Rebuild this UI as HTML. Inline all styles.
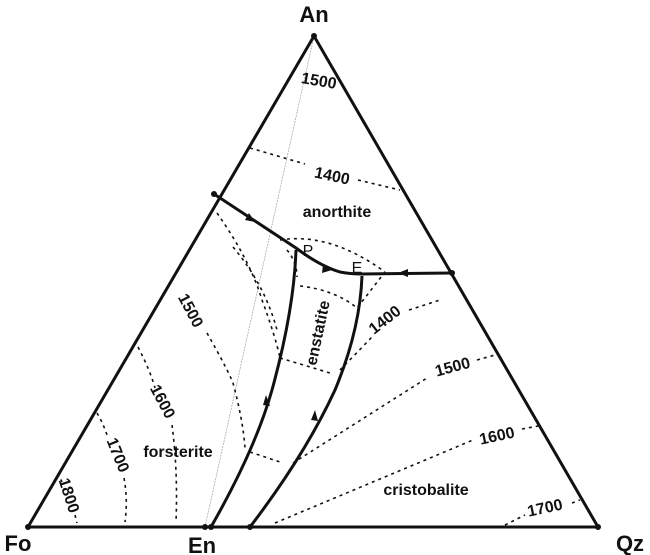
<!DOCTYPE html>
<html><head><style>body{margin:0;background:#fff}svg{display:block}</style></head><body>
<svg width="650" height="555" viewBox="0 0 650 555" xmlns="http://www.w3.org/2000/svg" font-family="Liberation Sans, Arial, sans-serif">
<line x1="314" y1="36" x2="205" y2="527" stroke="#aaa" stroke-width="0.8" stroke-dasharray="2,1"/>
<g fill="none" stroke="#111" stroke-width="1.6" stroke-dasharray="3,4">
<path d="M250,148 L305,164"/><path d="M358,180 L400,190"/>
<path d="M280,240 Q330,232 385,272"/>
<path d="M300,286 Q335,290 357,308 L385,272"/>
<path d="M340,370 L372,337"/><path d="M409,310 L440,300"/>
<path d="M293,463 L427,378"/><path d="M477,360 L495,355"/>
<path d="M275,523 L473,440"/><path d="M522,429 L538,426"/>
<path d="M505,525 L525,515"/><path d="M572,503 L580,500"/>
<path d="M250,452 L283,463"/><path d="M280,358 L330,373"/>
<path d="M217,213 Q250,260 262,300 Q275,335 280,358"/>
<path d="M233,247 Q265,285 277,330"/>
<path d="M287,250 Q297,262 297,277"/>
<path d="M207,333 Q228,370 233,383 Q243,420 245,448"/>
<path d="M138,347 Q150,370 155,388"/><path d="M172,425 Q178,470 176,522"/>
<path d="M97,413 Q104,425 108,438"/><path d="M124,478 Q128,500 125,522"/>
<path d="M58,473 L62,482"/><path d="M75,515 L77,523"/>
</g>
<g fill="none" stroke="#111" stroke-width="3">
<polygon points="314,36 28,527 598,527" stroke-linejoin="round"/>
<path d="M214,194 L296,248 Q320,266 340,272 Q350,274 362,274 L452,273"/>
<path d="M296,250 Q294,310 272,390 Q255,450 211,527"/>
<path d="M362,276 Q360,330 335,390 Q305,455 250,527"/>
</g>
<g fill="#111">
<circle cx="314" cy="36" r="3"/><circle cx="28" cy="527" r="3"/><circle cx="598" cy="527" r="3"/>
<circle cx="205" cy="527" r="3"/><circle cx="211" cy="527" r="3"/><circle cx="250" cy="527" r="3"/>
<circle cx="214" cy="194" r="3"/><circle cx="452" cy="273" r="3"/>
<polygon points="255,222 245,220 249,213"/>
<polygon points="332,270 322,273 323,265"/>
<polygon points="398,273 408,269 408,277"/>
<polygon points="266,395 263,405 270,406"/>
<polygon points="315,410 311,420 318,421"/>
</g>
<g font-weight="bold" fill="#111">
<text x="314" y="22" font-size="22" text-anchor="middle">An</text>
<text x="18" y="551" font-size="22" text-anchor="middle">Fo</text>
<text x="202" y="553" font-size="22" text-anchor="middle">En</text>
<text x="630" y="551" font-size="22" text-anchor="middle">Qz</text>
<g font-size="16" text-anchor="middle">
<text x="337" y="217">anorthite</text>
<text x="178" y="457">forsterite</text>
<text x="426" y="495">cristobalite</text>
<text transform="translate(323,334) rotate(-78)">enstatite</text>
<text transform="translate(318,86) rotate(10)">1500</text>
<text transform="translate(331,181) rotate(12)">1400</text>
<text transform="translate(388,324) rotate(-38)">1400</text>
<text transform="translate(454,372) rotate(-15)">1500</text>
<text transform="translate(498,441) rotate(-12)">1600</text>
<text transform="translate(546,513) rotate(-12)">1700</text>
<text transform="translate(186,313) rotate(62)">1500</text>
<text transform="translate(158,404) rotate(62)">1600</text>
<text transform="translate(113,457) rotate(68)">1700</text>
<text transform="translate(64,497) rotate(72)">1800</text>
</g></g>
<text x="308" y="256" font-size="16" fill="#111" text-anchor="middle">P</text>
<text x="357" y="273" font-size="16" fill="#111" text-anchor="middle">E</text>
</svg>
</body></html>
